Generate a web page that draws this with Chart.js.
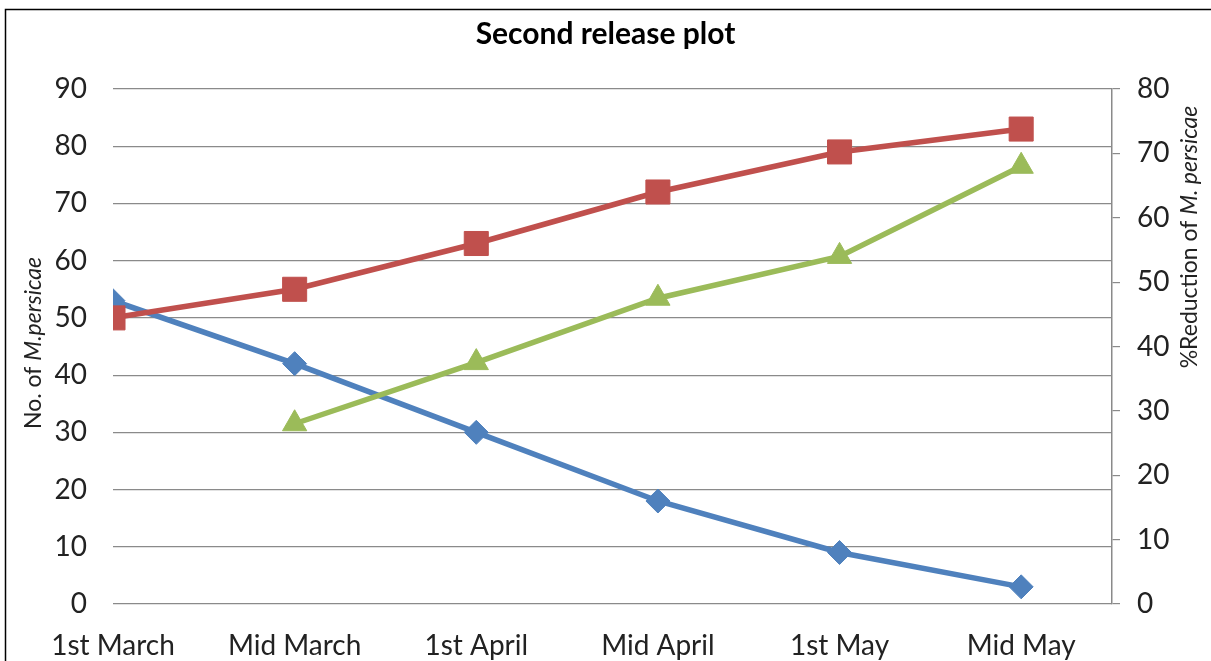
<!DOCTYPE html>
<html>
<head>
<meta charset="utf-8">
<title>Second release plot</title>
<script src="https://cdn.jsdelivr.net/npm/chart.js@4.4.1/dist/chart.umd.min.js"></script>
<style>
  html, body { margin: 0; padding: 0; background: #fff; }
  #wrap { width: 1211px; height: 661px; position: relative; }
</style>
</head>
<body>
<div id="wrap"><canvas id="chart"></canvas></div>
<script>
// data
const categories = ['1st March', 'Mid March', '1st April', 'Mid April', '1st May', 'Mid May'];
const blueValues = [53, 42, 30, 18, 9, 3];          // left axis
const redValues = [50, 55, 63, 72, 79, 83];         // left axis
const greenValues = [null, 28, 37.5, 47.5, 54, 68]; // right axis (% reduction)
const leftTicks = [0, 90, 10];   // min, max, step
const rightTicks = [0, 80, 10];

const FONT = 'Lato, "Open Sans", sans-serif';
const GRID = '#8a8a8a';

const pts = vals => vals.map((v, i) => ({ x: i, y: v }));

// axis titles with an italic part, drawn rotated
const axisTitles = {
  id: 'axisTitles',
  afterDraw(chart) {
    const ctx = chart.ctx;
    const draw = (parts, cx, cy) => {
      ctx.save();
      ctx.translate(cx, cy);
      ctx.rotate(-Math.PI / 2);
      ctx.fillStyle = '#222';
      ctx.textBaseline = 'middle';
      ctx.textAlign = 'left';
      let total = 0;
      parts.forEach(p => { ctx.font = p[1] + ' 23px ' + FONT; total += ctx.measureText(p[0]).width; });
      let x = -total / 2;
      parts.forEach(p => {
        ctx.font = p[1] + ' 23px ' + FONT;
        ctx.fillText(p[0], x, 0);
        x += ctx.measureText(p[0]).width;
      });
      ctx.restore();
    };
    draw([['No. of ', 'normal'], ['M.persicae', 'italic']], 34, 343);
    draw([['%Reduction of ', 'normal'], ['M. persicae', 'italic']], 1190, 237);

    // outer frame
    ctx.save();
    ctx.strokeStyle = '#000';
    ctx.lineWidth = 1.5;
    ctx.strokeRect(5.5, 9.5, 1400, 1400);
    ctx.restore();
  }
};

new Chart(document.getElementById('chart'), {
  type: 'line',
  data: {
    datasets: [
      {
        label: 'No. of M.persicae',
        data: pts(blueValues),
        yAxisID: 'y',
        borderColor: '#4F81BD', backgroundColor: '#4F81BD',
        borderWidth: 5.5, tension: 0,
        pointStyle: 'rectRot', pointRadius: 12, pointBorderWidth: 1,
        pointBackgroundColor: '#4F81BD', pointBorderColor: '#4F81BD',
        order: 3
      },
      {
        label: 'Control',
        data: pts(redValues),
        yAxisID: 'y',
        borderColor: '#C0504D', backgroundColor: '#C0504D',
        borderWidth: 5.5, tension: 0,
        pointStyle: 'rect', pointRadius: 17, pointBorderWidth: 1,
        pointBackgroundColor: '#C0504D', pointBorderColor: '#C0504D',
        order: 2
      },
      {
        label: '%Reduction',
        data: pts(greenValues),
        yAxisID: 'y1',
        borderColor: '#9BBB59', backgroundColor: '#9BBB59',
        borderWidth: 5.5, tension: 0,
        pointStyle: 'triangle', pointRadius: 14, pointBorderWidth: 1,
        pointBackgroundColor: '#9BBB59', pointBorderColor: '#9BBB59',
        order: 1
      }
    ]
  },
  options: {
    responsive: true, maintainAspectRatio: false, animation: false,
    layout: { padding: { left: 0, right: 0, top: 0, bottom: 0 } },
    plugins: {
      legend: { display: false },
      tooltip: { enabled: false },
      title: {
        display: true, text: 'Second release plot', color: '#000',
        font: { family: FONT, size: 30, weight: 'bold' },
        padding: { top: 16, bottom: 37 }
      }
    },
    scales: {
      x: {
        type: 'linear', min: 0, max: 5.5,
        afterBuildTicks: s => { s.ticks = categories.map((c, i) => ({ value: i })); },
        afterFit: s => { s.height = 57; },
        grid: { display: false },
        border: { display: false },
        ticks: {
          color: '#222', font: { family: FONT, size: 28 }, padding: 17,
          autoSkip: false, maxRotation: 0,
          callback: v => categories[v]
        }
      },
      y: {
        position: 'left', min: leftTicks[0], max: leftTicks[1],
        afterFit: s => { s.width = 113; },
        grid: { color: GRID, lineWidth: 1.2, drawTicks: false },
        border: { display: false },
        ticks: { stepSize: leftTicks[2], color: '#222', font: { family: FONT, size: 28 }, padding: 26 }
      },
      y1: {
        position: 'right', min: rightTicks[0], max: rightTicks[1],
        afterFit: s => { s.width = 99; },
        grid: { drawOnChartArea: false, color: GRID, lineWidth: 1.2, tickLength: 8 },
        border: { display: true, color: GRID, width: 1.5 },
        ticks: { stepSize: rightTicks[2], color: '#222', font: { family: FONT, size: 28 }, padding: 17 }
      }
    }
  },
  plugins: [axisTitles]
});
</script>
</body>
</html>
